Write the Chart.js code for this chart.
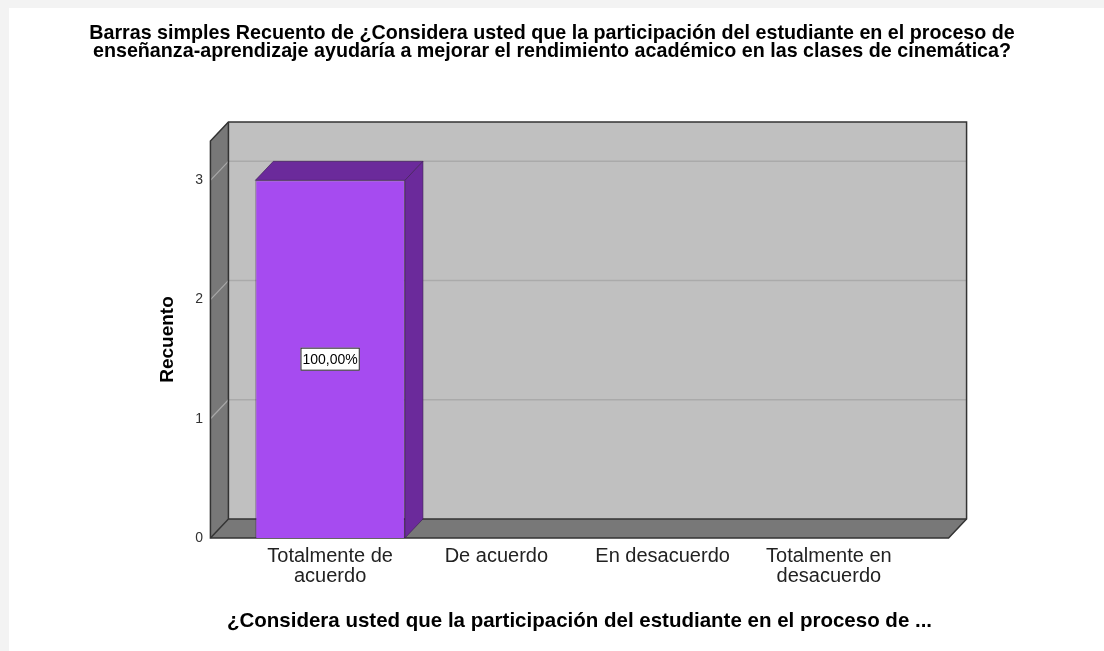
<!DOCTYPE html>
<html>
<head>
<meta charset="utf-8">
<script src="https://cdn.jsdelivr.net/npm/chart.js@4.4.0/dist/chart.umd.min.js"></script>
<style>
  html, body { margin: 0; padding: 0; background: #f3f3f3; }
  #card { position: absolute; left: 9px; top: 8px; width: 1095px; height: 643px; background: #fff; }
  #wrap { position: absolute; left: 0; top: 0; width: 1104px; height: 651px; }
</style>
</head>
<body>
<div id="card"></div>
<div id="wrap"><canvas id="bar"></canvas></div>
<script>
// data
const categories = [['Totalmente de', 'acuerdo'], 'De acuerdo', 'En desacuerdo', ['Totalmente en', 'desacuerdo']];
const counts = [3, 0, 0, 0];
const yTicks = [0, 1, 2, 3];
const yMax = 3.33;

const chartTitle = [
    'Barras simples Recuento de ¿Considera usted que la participación del estudiante en el proceso de',
    'enseñanza-aprendizaje ayudaría a mejorar el rendimiento académico en las clases de cinemática?'
];
const xTitle = '¿Considera usted que la participación del estudiante en el proceso de ...';
const yTitle = 'Recuento';

const total = counts.reduce((a, b) => a + b, 0);
const FONT = "'Liberation Sans', Arial, sans-serif";

// 3d depth of the box
const DX = 18, DY = 19;

function poly(ctx, pts, fill, stroke, lw) {
    ctx.beginPath();
    ctx.moveTo(pts[0][0], pts[0][1]);
    for (let i = 1; i < pts.length; i++) ctx.lineTo(pts[i][0], pts[i][1]);
    ctx.closePath();
    if (fill) { ctx.fillStyle = fill; ctx.fill(); }
    if (stroke) { ctx.strokeStyle = stroke; ctx.lineWidth = lw || 1; ctx.stroke(); }
}

const box3d = {
    id: 'box3d',
    beforeDatasetsDraw(chart) {
        const ctx = chart.ctx;
        const ca = chart.chartArea;
        const xs = chart.scales.x, ys = chart.scales.y;
        const band = (xs.right - xs.left) / categories.length;
        const ext = band * 0.22;
        const fl = ca.left - ext, fr = ca.right + ext;
        const top = ca.top, bot = ys.getPixelForValue(0);
        ctx.save();
        // back wall
        poly(ctx, [[fl + DX, top - DY], [fr + DX, top - DY], [fr + DX, bot - DY], [fl + DX, bot - DY]], '#c0c0c0');
        // grid lines
        ctx.lineWidth = 1.5;
        yTicks.forEach(v => {
            if (v === 0) return;
            const y = ys.getPixelForValue(v);
            ctx.strokeStyle = '#aaaaaa';
            ctx.beginPath();
            ctx.moveTo(fl + DX, y - DY);
            ctx.lineTo(fr + DX, y - DY);
            ctx.stroke();
        });
        // left wall
        poly(ctx, [[fl, top], [fl + DX, top - DY], [fl + DX, bot - DY], [fl, bot]], '#787878');
        yTicks.forEach(v => {
            if (v === 0) return;
            const y = ys.getPixelForValue(v);
            ctx.strokeStyle = '#a8a8a8';
            ctx.lineWidth = 1.2;
            ctx.beginPath();
            ctx.moveTo(fl, y);
            ctx.lineTo(fl + DX, y - DY);
            ctx.stroke();
        });
        // floor
        poly(ctx, [[fl, bot], [fl + DX, bot - DY], [fr + DX, bot - DY], [fr, bot]], '#787878');
        // outlines
        ctx.strokeStyle = '#333';
        ctx.lineWidth = 1.5;
        ctx.beginPath();
        ctx.moveTo(fl, bot); ctx.lineTo(fl, top); ctx.lineTo(fl + DX, top - DY);
        ctx.lineTo(fr + DX, top - DY); ctx.lineTo(fr + DX, bot - DY); ctx.lineTo(fr, bot); ctx.closePath();
        ctx.stroke();
        ctx.beginPath();
        ctx.moveTo(fl + DX, top - DY); ctx.lineTo(fl + DX, bot - DY); ctx.lineTo(fr + DX, bot - DY);
        ctx.moveTo(fl, bot); ctx.lineTo(fl + DX, bot - DY);
        ctx.stroke();
        ctx.restore();
    },
    afterDatasetsDraw(chart) {
        const ctx = chart.ctx;
        const meta = chart.getDatasetMeta(0);
        ctx.save();
        meta.data.forEach((bar, i) => {
            if (!counts[i]) return;
            const p = bar.getProps(['x', 'y', 'base', 'width'], true);
            const l = p.x - p.width / 2, r = p.x + p.width / 2;
            poly(ctx, [[l, p.y], [l + DX, p.y - DY], [r + DX, p.y - DY], [r, p.y]], '#6b2a9b', 'rgba(60,30,80,0.6)', 1);
            poly(ctx, [[r, p.y], [r + DX, p.y - DY], [r + DX, p.base - DY], [r, p.base]], '#6b2a9b', 'rgba(60,30,80,0.6)', 1);
            // percent label
            const txt = (counts[i] / total * 100).toFixed(2).replace('.', ',') + '%';
            ctx.font = '14px ' + FONT;
            const w = ctx.measureText(txt).width + 4;
            const cy = (p.y + p.base) / 2;
            ctx.fillStyle = '#fff';
            ctx.fillRect(p.x - w / 2, cy - 11.5, w, 23);
            ctx.strokeStyle = '#222';
            ctx.lineWidth = 1;
            ctx.strokeRect(p.x - w / 2 + 0.5, cy - 11, w - 1, 22);
            ctx.fillStyle = '#000';
            ctx.textAlign = 'center';
            ctx.textBaseline = 'middle';
            ctx.fillText(txt, p.x, cy + 1);
        });
        ctx.restore();
    },
    afterDraw(chart) {
        // x axis title, wider than the axis itself so drawn here
        const ctx = chart.ctx;
        const ca = chart.chartArea;
        ctx.save();
        ctx.font = 'bold 20.5px ' + FONT;
        ctx.fillStyle = '#000';
        ctx.textAlign = 'center';
        ctx.textBaseline = 'middle';
        ctx.fillText(xTitle, (ca.left + ca.right) / 2, 621);
        ctx.restore();
    }
};

const ctx = document.getElementById('bar').getContext('2d');
const myChart = new Chart(ctx, {
    type: 'bar',
    data: {
        labels: categories,
        datasets: [{
            label: yTitle,
            data: counts,
            backgroundColor: '#a64bf0',
            borderColor: 'rgba(60,30,80,0.6)',
            borderWidth: 1,
            barPercentage: 0.9,
            categoryPercentage: 1
        }]
    },
    options: {
        responsive: true,
        maintainAspectRatio: false,
        animation: false,
        layout: { padding: { left: 80, right: 80, top: 0, bottom: 57 } },
        plugins: {
            legend: { display: false },
            tooltip: { enabled: false },
            title: {
                display: true,
                text: chartTitle,
                color: '#000',
                font: { family: FONT, size: 19.7, weight: 'bold', lineHeight: '18.5px' },
                padding: { top: 24, bottom: 80 }
            }
        },
        scales: {
            x: {
                grid: { display: false, drawTicks: false },
                border: { display: false },
                ticks: {
                    color: '#222',
                    font: { family: FONT, size: 20, lineHeight: '20px' },
                    padding: 8,
                    maxRotation: 0,
                    autoSkip: false
                }
            },
            y: {
                min: 0,
                max: yMax,
                grid: { display: false, drawTicks: false },
                border: { display: false },
                afterBuildTicks(scale) { scale.ticks = yTicks.map(v => ({ value: v })); },
                afterFit(scale) { scale.width = 167; },
                ticks: {
                    color: '#333',
                    font: { family: FONT, size: 14 },
                    padding: 44
                },
                title: {
                    display: true,
                    text: yTitle,
                    color: '#000',
                    font: { family: FONT, size: 19, weight: 'bold' },
                    padding: { top: 76, bottom: 0 }
                }
            },
            yRight: {
                position: 'right',
                display: true,
                grid: { display: false, drawTicks: false },
                border: { display: false },
                ticks: { display: false },
                afterFit(scale) { scale.width = 112; }
            }
        }
    },
    plugins: [box3d]
});
</script>
</body>
</html>
